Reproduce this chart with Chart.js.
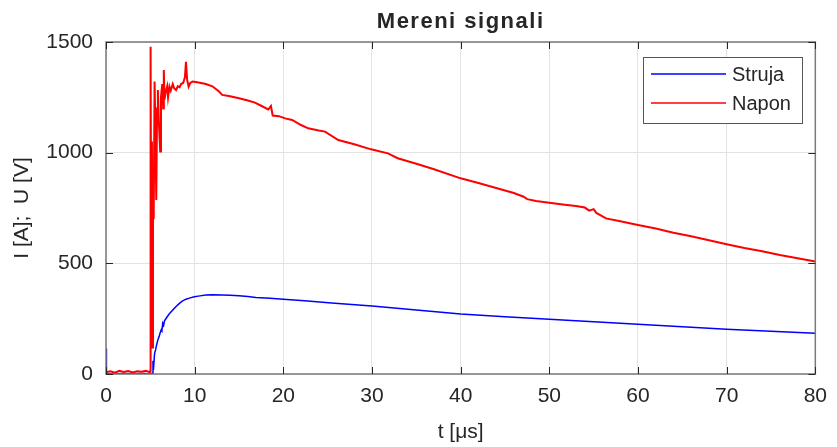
<!DOCTYPE html>
<html>
<head>
<meta charset="utf-8">
<script src="https://cdn.jsdelivr.net/npm/chart.js@4.4.1/dist/chart.umd.min.js"></script>
<style>
  html, body { margin: 0; padding: 0; background: #fff; }
  #wrap { width: 837px; height: 447px; }
</style>
</head>
<body>
<div id="wrap"><canvas id="chart" width="837" height="447"></canvas></div>
<script>
// values
const xTicks = [0, 10, 20, 30, 40, 50, 60, 70, 80];
const yTicks = [0, 500, 1000, 1500];

// Struja (current), A
const strujaT = [0, 0.05, 1, 2, 3, 4, 5.0, 5.22, 5.3, 5.35, 5.48, 5.6, 5.7, 5.85, 6.0, 6.1, 6.23, 6.3, 6.4, 6.5,
  6.6, 6.79, 7.1, 7.53, 7.9, 8.28, 8.6, 9.02, 9.5, 9.96, 10.6, 11.26, 12, 13.1, 14, 15, 16, 16.9, 18.5, 20,
  22.4, 25.1, 26.2, 30, 35, 40, 45, 50, 55, 60, 65, 70, 75, 80];
const strujaI = [115, 2, 1, 2, 1, 2, 1, 3, 60, 20, 93, 110, 130, 154, 170, 185, 199, 195, 229, 220,
  240, 252, 270, 289, 305, 319, 329, 338, 344, 349, 353, 357, 358, 357, 356, 354, 350, 346, 342, 338,
  331, 322, 319, 307, 289, 271, 259, 247, 236, 225, 213, 202, 193, 184];

// Napon (voltage), V
const naponT = [0, 0.5, 1, 1.5, 2, 2.5, 3, 3.5, 4, 4.5, 4.95, 5.0, 5.03, 5.1, 5.18, 5.25, 5.3, 5.38, 5.48, 5.57,
  5.67, 5.76, 5.85, 5.95, 6.11, 6.2, 6.34, 6.45, 6.52, 6.6, 6.71, 6.9, 7.0, 7.16, 7.3, 7.53, 7.7, 7.9, 8.1, 8.3,
  8.46, 8.7, 8.9, 9.02, 9.15, 9.32, 9.5, 9.77, 10.3, 11.26, 12, 12.75, 13.1, 14, 15, 16, 16.8, 17.5, 18.3, 18.6,
  18.8, 19.5, 20.2, 21, 22, 22.8, 24, 24.7, 26.2, 28, 29.9, 31.8, 32.9, 35, 37, 40, 42, 44, 46, 47.1,
  47.5, 48.5, 50, 51.5, 53, 54, 54.5, 55, 55.3, 56.4, 58, 60, 62, 64, 66, 68, 70, 72, 74, 76,
  78, 80];
const naponU = [8, 12, 6, 14, 9, 13, 7, 12, 10, 14, 8, 15, 1479, 380, 1050, 120, 900, 700, 1321, 1100,
  786, 1200, 1283, 1150, 1005, 1250, 1310, 1200, 1373, 1240, 1270, 1300, 1250, 1298, 1280, 1310, 1290, 1283, 1300, 1295,
  1310, 1315, 1340, 1411, 1330, 1298, 1315, 1321, 1318, 1310, 1300, 1276, 1261, 1255, 1246, 1236, 1226, 1212, 1195, 1211,
  1168, 1165, 1155, 1148, 1125, 1110, 1100, 1095, 1057, 1038, 1015, 997, 975, 950, 925, 884, 863, 840, 818, 801,
  790, 782, 774, 766, 759, 752, 738, 745, 728, 703, 690, 673, 657, 638, 622, 604, 586, 569, 555, 538,
  523, 508];

const txt = '#262626';
const boxColor = '#7a7a7a';
const font = 'Liberation Sans, Arial, Helvetica, sans-serif';

function pts(t, v) {
  return t.map((x, i) => ({ x: x, y: v[i] }));
}

// axes box with inward ticks on all four sides, MATLAB style
const boxPlugin = {
  id: 'box',
  afterDatasetsDraw(chart) {
    const { ctx, chartArea: a, scales } = chart;
    const len = 7;
    ctx.save();
    ctx.strokeStyle = boxColor;
    ctx.lineWidth = 1.5;
    ctx.strokeRect(a.left, a.top, a.right - a.left, a.bottom - a.top);
    ctx.strokeStyle = txt;
    ctx.lineWidth = 1;
    ctx.beginPath();
    xTicks.forEach(v => {
      const px = Math.round(scales.x.getPixelForValue(v)) + 0.5;
      ctx.moveTo(px, a.bottom); ctx.lineTo(px, a.bottom - len);
      ctx.moveTo(px, a.top); ctx.lineTo(px, a.top + len);
    });
    yTicks.forEach(v => {
      const py = Math.round(scales.y.getPixelForValue(v)) + 0.5;
      ctx.moveTo(a.left, py); ctx.lineTo(a.left + len, py);
      ctx.moveTo(a.right, py); ctx.lineTo(a.right - len, py);
    });
    ctx.stroke();
    ctx.restore();
  },
  afterDraw(chart) {
    const { ctx, chartArea: a } = chart;
    // title
    ctx.save();
    ctx.fillStyle = txt;
    ctx.font = 'bold 22px ' + font;
    ctx.letterSpacing = '1.5px';
    ctx.textAlign = 'center';
    ctx.textBaseline = 'middle';
    ctx.fillText('Mereni signali', (a.left + a.right) / 2, 22);
    ctx.restore();

    // legend inside the axes, top right
    const lx = 643, ly = 57, lw = 159, lh = 66;
    ctx.save();
    ctx.fillStyle = '#fff';
    ctx.fillRect(lx, ly, lw, lh);
    ctx.strokeStyle = '#555';
    ctx.lineWidth = 1;
    ctx.strokeRect(lx + 0.5, ly + 0.5, lw, lh);
    ctx.font = '20px ' + font;
    ctx.textBaseline = 'middle';
    ctx.fillStyle = txt;
    const items = [chart.data.datasets[0], chart.data.datasets[1]];
    items.forEach((ds, i) => {
      const y = ly + 17 + i * 29;
      ctx.strokeStyle = ds.borderColor;
      ctx.lineWidth = 1.5;
      ctx.beginPath();
      ctx.moveTo(lx + 8, y); ctx.lineTo(lx + 83, y);
      ctx.stroke();
      ctx.fillText(ds.label, lx + 89, y + 1);
    });
    ctx.restore();
  }
};

new Chart(document.getElementById('chart'), {
  type: 'line',
  data: {
    datasets: [
      {
        label: 'Struja',
        data: pts(strujaT, strujaI),
        borderColor: '#0000ff',
        borderWidth: 1.5,
        pointRadius: 0,
        tension: 0,
        order: 1
      },
      {
        label: 'Napon',
        data: pts(naponT, naponU),
        borderColor: '#ff0000',
        borderWidth: 2,
        pointRadius: 0,
        tension: 0,
        order: 0
      }
    ]
  },
  options: {
    responsive: false,
    animation: false,
    layout: { padding: { top: 42, right: 16, left: 0, bottom: 0 } },
    plugins: {
      legend: { display: false },
      title: { display: false },
      tooltip: { enabled: false }
    },
    scales: {
      x: {
        type: 'linear',
        min: 0,
        max: 80,
        afterFit(scale) { scale.height = 73; },
        afterBuildTicks(scale) { scale.ticks = xTicks.map(v => ({ value: v })); },
        grid: { color: '#e3e3e3', drawTicks: false },
        border: { display: false },
        ticks: { color: txt, font: { family: font, size: 21 }, padding: 10, maxRotation: 0, callback: v => String(v) },
        title: { display: true, text: 't [μs]', color: txt, font: { family: font, size: 21 }, padding: { top: 0, bottom: 2 } }
      },
      y: {
        min: 0,
        max: 1500,
        afterFit(scale) { scale.width = 106; },
        afterBuildTicks(scale) { scale.ticks = yTicks.map(v => ({ value: v })); },
        grid: { color: '#e3e3e3', drawTicks: false },
        border: { display: false },
        ticks: { color: txt, font: { family: font, size: 21 }, padding: 13, callback: v => String(v) },
        title: { display: true, text: 'I [A];  U [V]', color: txt, font: { family: font, size: 21 }, padding: { top: 10, bottom: 0 } }
      }
    }
  },
  plugins: [boxPlugin]
});
</script>
</body>
</html>
